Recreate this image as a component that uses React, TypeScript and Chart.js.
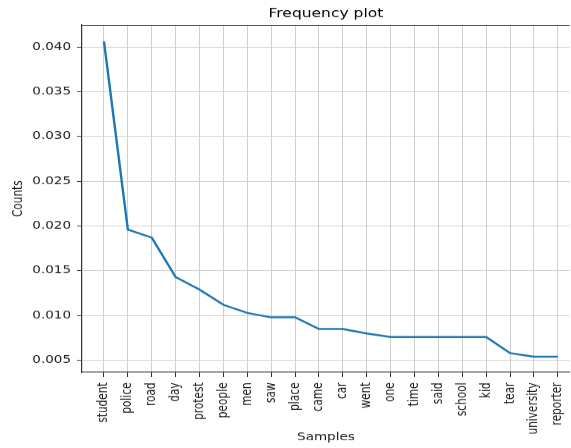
import React, { useEffect, useRef } from "react";
import { Chart, registerables } from "chart.js";

Chart.register(...registerables);

const samples = [
  "student", "police", "road", "day", "protest", "people", "men", "saw", "place", "came",
  "car", "went", "one", "time", "said", "school", "kid", "tear", "university", "reporter",
];
const counts = [
  0.0406, 0.0196, 0.0187, 0.0143, 0.0129, 0.0112, 0.0103, 0.0098, 0.0098, 0.0085,
  0.0085, 0.0080, 0.0076, 0.0076, 0.0076, 0.0076, 0.0076, 0.0058, 0.0054, 0.0054,
];
const yTicks = [0.005, 0.01, 0.015, 0.02, 0.025, 0.03, 0.035, 0.04];

const W = 571;
const H = 574;
const SCALE_Y = 448 / H;
const FONT = "'DejaVu Sans', sans-serif";

const topLine = {
  id: "topLine",
  afterDraw(chart: any) {
    const { ctx, chartArea } = chart;
    ctx.save();
    ctx.strokeStyle = "#444";
    ctx.lineWidth = 1.2;
    ctx.beginPath();
    ctx.moveTo(chartArea.left, chartArea.top + 0.5);
    ctx.lineTo(chartArea.right, chartArea.top + 0.5);
    ctx.stroke();
    ctx.restore();
  },
};

export default function App() {
  const ref = useRef<HTMLCanvasElement>(null);
  useEffect(() => {
    if (!ref.current) return;
    const chart = new Chart(ref.current, {
      type: "line",
      data: {
        datasets: [
          {
            data: counts.map((v, i) => ({ x: i, y: v })),
            borderColor: "#1f77b4",
            borderWidth: 2.4,
            pointRadius: 0,
            tension: 0,
            fill: false,
          },
        ],
      },
      options: {
        animation: false,
        responsive: true,
        maintainAspectRatio: false,
        layout: { padding: 0 },
        plugins: {
          legend: { display: false },
          tooltip: { enabled: false },
          title: {
            display: true,
            text: "Frequency plot",
            fullSize: false,
            color: "#000",
            font: { family: FONT, size: 15.5, weight: "normal" },
            padding: { top: 9, bottom: 4.4 },
          },
        },
        scales: {
          x: {
            type: "linear",
            min: -0.92,
            max: 19.5,
            afterBuildTicks: (scale: any) => {
              scale.ticks = samples.map((_, i) => ({ value: i }));
            },
            afterFit: (scale: any) => {
              scale.height = H - 477;
              scale.paddingLeft = 0;
              scale.paddingRight = 0;
            },
            ticks: {
              autoSkip: false,
              minRotation: 90,
              maxRotation: 90,
              padding: 7,
              color: "#1a1a1a",
              font: { family: FONT, size: 13.5 },
              callback: (v: any) => samples[v] ?? "",
            },
            grid: { color: "#cfcfcf", lineWidth: 1, tickLength: 6, tickColor: "#333" },
            border: { display: true, color: "#333", width: 1.2 },
            title: {
              display: true,
              text: "Samples",
              color: "#1a1a1a",
              font: { family: FONT, size: 13.5 },
              padding: { top: 5, bottom: 5 },
            },
          },
          y: {
            type: "linear",
            min: 0.00366,
            max: 0.04245,
            afterBuildTicks: (scale: any) => {
              scale.ticks = yTicks.map((v) => ({ value: v }));
            },
            afterFit: (scale: any) => {
              scale.width = 82;
              scale.paddingTop = 0;
              scale.paddingBottom = 0;
            },
            ticks: {
              padding: 6,
              color: "#1a1a1a",
              font: { family: FONT, size: 13.5 },
              callback: (v: any) => Number(v).toFixed(3),
            },
            grid: { color: "#cfcfcf", lineWidth: 1, tickLength: 5, tickColor: "#333" },
            border: { display: true, color: "#333", width: 1.2 },
            title: {
              display: true,
              text: "Counts",
              color: "#1a1a1a",
              font: { family: FONT, size: 13.5 },
              padding: { top: 10, bottom: 10 },
            },
          },
        },
      },
      plugins: [topLine],
    });
    return () => chart.destroy();
  }, []);

  return (
    <div
      style={{
        position: "fixed",
        left: 0,
        top: 0,
        width: W,
        height: 448,
        overflow: "hidden",
        background: "#fff",
      }}
    >
      <div
        style={{
          width: W,
          height: H,
          transform: `scaleY(${SCALE_Y})`,
          transformOrigin: "top left",
        }}
      >
        <canvas ref={ref} />
      </div>
    </div>
  );
}
